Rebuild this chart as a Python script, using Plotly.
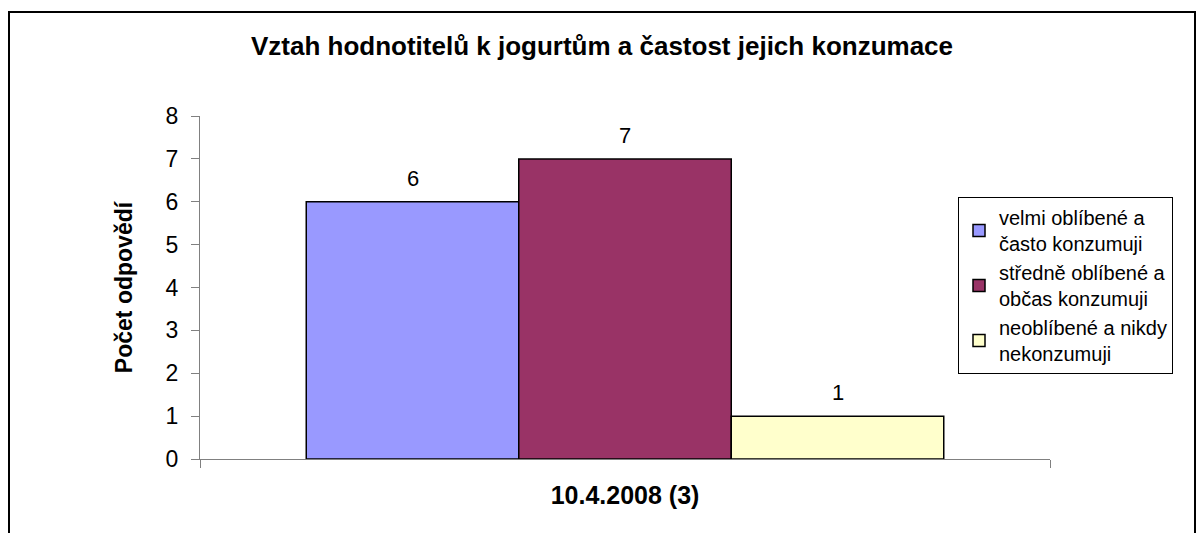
import plotly.graph_objects as go

category = ["10.4.2008 (3)"]
series_names = [
    "velmi oblíbené a<br>často konzumuji",
    "středně oblíbené a<br>občas konzumuji",
    "neoblíbené a nikdy<br>nekonzumuji",
]
series_values = [[6], [7], [1]]
series_colors = ["#9999FF", "#993366", "#FFFFCC"]
y_ticks = [0, 1, 2, 3, 4, 5, 6, 7, 8]

FONT = "Arial, Liberation Sans, sans-serif"
BARGAP = 0.25

fig = go.Figure()
for name, vals, col in zip(series_names, series_values, series_colors):
    fig.add_trace(go.Bar(
        x=category, y=vals, name=name,
        marker=dict(color=col, line=dict(color="black", width=1.5)),
        cliponaxis=False,
    ))

# value labels placed through the axes (bar centres derived from group layout)
n = len(series_values)
bw = (1 - BARGAP) / n
for i, vals in enumerate(series_values):
    for j, v in enumerate(vals):
        fig.add_annotation(x=j - (1 - BARGAP) / 2 + bw * (i + 0.5), y=v,
                           xref="x", yref="y", text=str(v), showarrow=False,
                           yanchor="bottom", yshift=9,
                           font=dict(family=FONT, size=22, color="black"))

W, H = 1198, 533
L, R, T, B = 200, 148, 116, 74
pw, ph = W - L - R, H - T - B

def px_x(px):
    return (px - L) / pw

def px_y(py):
    return (H - B - py) / ph

fig.update_layout(
    width=W, height=H,
    margin=dict(l=L, r=R, t=T, b=B),
    paper_bgcolor="white", plot_bgcolor="white",
    barmode="group", bargap=BARGAP, bargroupgap=0,
    font=dict(family=FONT, color="black"),
    title=dict(text="<b>Vztah hodnotitelů k jogurtům a častost jejich konzumace</b>",
               x=px_x(602), xref="paper", xanchor="center",
               y=1 - 46 / H, yanchor="middle",
               font=dict(family=FONT, size=26, color="black")),
    xaxis=dict(showline=True, linecolor="#808080", linewidth=1,
               ticks="outside", tickson="boundaries", ticklen=8, tickcolor="#808080",
               showticklabels=False, showgrid=False,
               title=dict(text="<b>10.4.2008 (3)</b>", standoff=27,
                          font=dict(family=FONT, size=25, color="black"))),
    yaxis=dict(range=[0, 8], tickvals=y_ticks, showline=True, linecolor="#808080",
               linewidth=1, ticks="outside", ticklen=8, tickcolor="#808080",
               showgrid=False, zeroline=False, ticklabelstandoff=8,
               tickfont=dict(family=FONT, size=23, color="black"),
               title=dict(text="<b>Počet odpovědí</b>", standoff=26,
                          font=dict(family=FONT, size=23, color="black"))),
    legend=dict(x=px_x(958), xanchor="left", y=px_y(197), yanchor="top",
                bordercolor="black", borderwidth=1, bgcolor="white",
                font=dict(family=FONT, size=20, color="black"),
                itemwidth=30, tracegroupgap=0),
    showlegend=True,
)

fig.add_shape(type="rect", xref="paper", yref="paper",
              x0=px_x(9), x1=px_x(1195), y0=px_y(580), y1=px_y(12),
              line=dict(color="black", width=2), fillcolor="rgba(0,0,0,0)",
              layer="below")

fig.write_html("out.html",
               config={"displayModeBar": False},
               post_script="document.body.style.margin='0';document.body.style.overflow='hidden';")
